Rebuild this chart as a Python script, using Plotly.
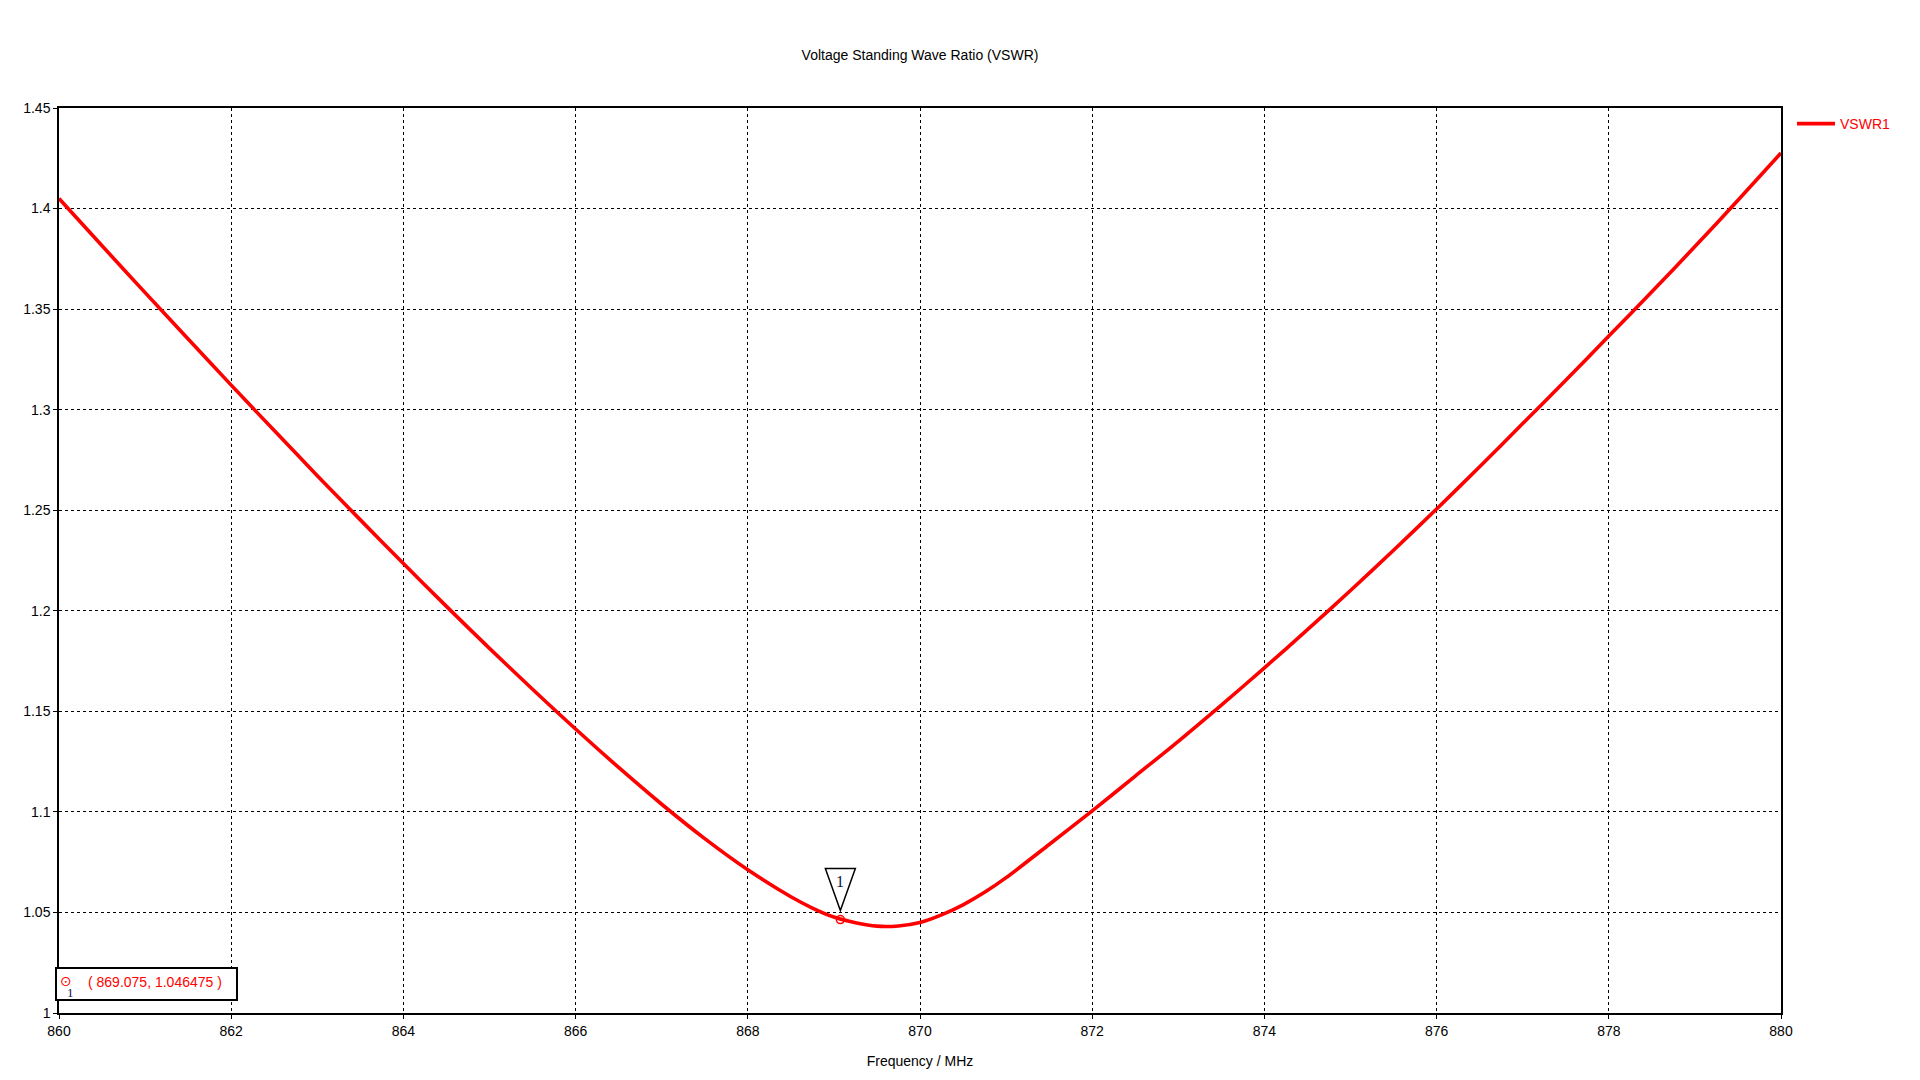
import plotly.graph_objects as go

# ---- data ----
freq_mhz = [860.0, 860.5, 861.0, 861.5, 862.0, 862.5, 863.0, 863.5, 864.0, 864.5,
            865.0, 865.5, 866.0, 866.5, 867.0, 867.5, 868.0, 868.5, 868.75, 869.0,
            869.25, 869.5, 869.75, 870.0, 870.25, 870.5, 870.75, 871.0, 871.5, 872.0,
            872.5, 873.0, 873.5, 874.0, 874.5, 875.0, 875.5, 876.0, 876.5, 877.0,
            877.5, 878.0, 878.5, 879.0, 879.5, 880.0]
vswr1 = [1.4050, 1.3815, 1.3582, 1.3351, 1.3122, 1.2896, 1.2672, 1.2452, 1.2235, 1.2022,
         1.1813, 1.1610, 1.1412, 1.1221, 1.1038, 1.0867, 1.0712, 1.0578, 1.0522, 1.0477,
         1.0449, 1.0432, 1.0433, 1.0450, 1.0488, 1.0538, 1.0600, 1.0673, 1.0838, 1.1005,
         1.1178, 1.1351, 1.1531, 1.1716, 1.1906, 1.2101, 1.2301, 1.2506, 1.2716, 1.2931,
         1.3146, 1.3366, 1.3586, 1.3811, 1.4041, 1.4276]

marker_freq = [869.075]
marker_vswr = [1.046475]
marker_label = "1"

x_tickvals = [860, 862, 864, 866, 868, 870, 872, 874, 876, 878, 880]
x_ticktext = ["860", "862", "864", "866", "868", "870", "872", "874", "876", "878", "880"]
y_tickvals = [1.0, 1.05, 1.1, 1.15, 1.2, 1.25, 1.3, 1.35, 1.4, 1.45]
y_ticktext = ["1", "1.05", "1.1", "1.15", "1.2", "1.25", "1.3", "1.35", "1.4", "1.45"]

FONT = "Liberation Sans, Arial, sans-serif"
RED = "#ff0000"
NAVY = "#10104a"

fig = go.Figure()
fig.add_trace(go.Scatter(
    x=freq_mhz, y=vswr1, mode="lines", name="VSWR1",
    line=dict(color=RED, width=3.6, shape="spline", smoothing=0.8),
))
fig.add_trace(go.Scatter(
    x=marker_freq, y=marker_vswr, mode="markers", showlegend=False,
    marker=dict(symbol="circle-open-dot", size=8, color=RED, line=dict(color=RED, width=1.5)),
))

# inverted-triangle marker flag anchored on the marker point (pixel offsets)
fig.add_shape(
    type="path", xref="x", yref="y",
    xsizemode="pixel", ysizemode="pixel",
    xanchor=marker_freq[0], yanchor=marker_vswr[0],
    path="M -15 51 L 15 51 L 0 9 Z",
    line=dict(color="black", width=1.5), fillcolor="white", layer="above",
)
fig.add_annotation(
    x=marker_freq[0], y=marker_vswr[0], xref="x", yref="y", text=marker_label,
    showarrow=False, yshift=38, font=dict(family="Liberation Serif, serif", size=16, color=NAVY),
)

# readout box
readout = "( {:.3f}, {:.6f} )".format(marker_freq[0], marker_vswr[0])
fig.add_shape(type="rect", xref="paper", yref="paper",
              x0=-3 / 1722, x1=178 / 1722, y0=13 / 905, y1=45 / 905,
              line=dict(color="black", width=2), fillcolor="white", layer="above")
fig.add_annotation(xref="paper", yref="paper", x=27 / 1722, y=31 / 905,
                   xanchor="left", yanchor="middle", showarrow=False,
                   text=readout, font=dict(family=FONT, size=14, color=RED))
fig.add_annotation(xref="paper", yref="paper", x=7 / 1722, y=32 / 905,
                   xanchor="center", yanchor="middle", showarrow=False,
                   text="⊙", font=dict(family="DejaVu Sans", size=14, color=RED))
fig.add_annotation(xref="paper", yref="paper", x=11 / 1722, y=21 / 905,
                   xanchor="center", yanchor="middle", showarrow=False,
                   text="1", font=dict(family="Liberation Serif, serif", size=13, color=NAVY))

axis_common = dict(
    showline=True, linecolor="black", linewidth=1.5, mirror=True,
    showgrid=True, gridcolor="black", gridwidth=1, griddash="3px,3px",
    ticks="outside", ticklen=4, tickcolor="black", tickwidth=1,
    tickfont=dict(family=FONT, size=14, color="black"),
    zeroline=False,
)

fig.update_layout(
    width=1920, height=1080,
    margin=dict(l=59, r=139, t=108, b=67),
    paper_bgcolor="white", plot_bgcolor="white",
    title=dict(text="Voltage Standing Wave Ratio (VSWR)", x=920 / 1920, xanchor="center",
               y=1 - 55 / 1080, yanchor="middle",
               font=dict(family=FONT, size=14, color="black")),
    xaxis=dict(range=[860, 880], tickvals=x_tickvals, ticktext=x_ticktext,
               title=dict(text="Frequency / MHz", font=dict(family=FONT, size=14, color="black"),
                          standoff=19),
               **axis_common),
    yaxis=dict(range=[1.0, 1.45], tickvals=y_tickvals, ticktext=y_ticktext, **axis_common),
    showlegend=True,
    legend=dict(x=(1792 - 59) / 1722, y=1.0, xanchor="left", yanchor="top",
                font=dict(family=FONT, size=14, color=RED), itemwidth=38,
                bgcolor="rgba(0,0,0,0)", borderwidth=0),
)

fig.write_html("out.html")
